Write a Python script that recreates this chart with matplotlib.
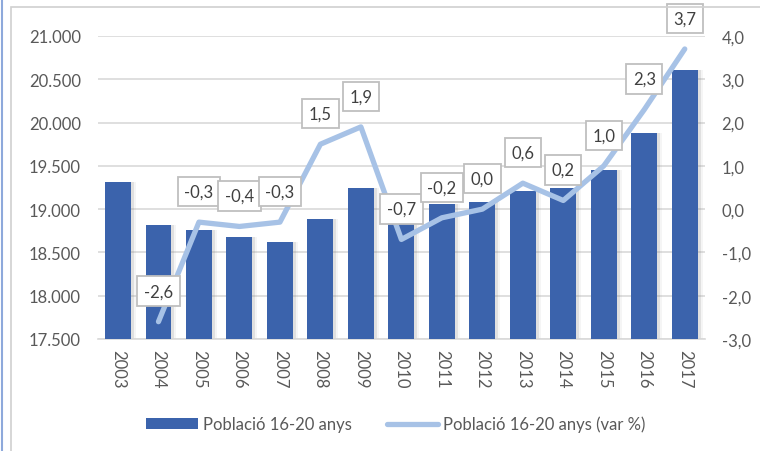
import matplotlib
matplotlib.use("Agg")
import matplotlib.pyplot as plt
from matplotlib.patches import Rectangle, Patch
from matplotlib.lines import Line2D
from matplotlib.ticker import FuncFormatter, FixedLocator
import numpy as np

years = ["2003", "2004", "2005", "2006", "2007", "2008", "2009", "2010",
         "2011", "2012", "2013", "2014", "2015", "2016", "2017"]
poblacio = [19310, 18820, 18760, 18680, 18615, 18890, 19250, 19120,
            19060, 19080, 19205, 19245, 19450, 19885, 20610]
var_years = years[1:]
var_pct = [-2.6, -0.3, -0.4, -0.3, 1.5, 1.9, -0.7, -0.2, 0.0, 0.6, 0.2, 1.0, 2.3, 3.7]
left_ticks = [17500, 18000, 18500, 19000, 19500, 20000, 20500, 21000]
right_ticks = [-3, -2, -1, 0, 1, 2, 3, 4]

bar_color = "#3B63AC"
line_color = "#A7C2E6"
text_color = "#595959"
label_color = "#404040"
grid_color = "#D9D9D9"

plt.rcParams['font.family'] = ['Lato', 'DejaVu Sans']

W, H = 760, 452
fig = plt.figure(figsize=(W / 100, H / 100), dpi=100)
fig.patch.set_facecolor("white")

# outer chart frame
fig.add_artist(Line2D([2 / W, 2 / W], [0, 1], transform=fig.transFigure,
                      color="#8EA9DB", lw=1.5))
fig.add_artist(Rectangle((11 / W, -0.05), 1.0, 1 - 8 / H + 0.05,
                         transform=fig.transFigure, fill=False,
                         edgecolor="#D0D0D0", lw=1.2))

ax = fig.add_axes([97.75 / W, 1 - 340 / H, (705 - 97.75) / W, (340 - 37) / H])
x = np.arange(len(years))

# bar shadows
ax.bar(x + 0.07, poblacio, width=0.64, color="#808080", alpha=0.18, zorder=2)
ax.bar(x + 0.12, poblacio, width=0.64, color="#A0A0A0", alpha=0.10, zorder=2)
ax.bar(x, poblacio, width=0.64, color=bar_color, zorder=3)

ax.set_xlim(-0.5, len(years) - 0.5)
ax.set_ylim(17500, 21000)
ax.yaxis.set_major_locator(FixedLocator(left_ticks))
ax.yaxis.set_major_formatter(FuncFormatter(lambda v, p: f"{int(v):,}".replace(",", ".")))
ax.set_xticks(x)
ax.set_xticklabels(years, rotation=-90, va="top", ha="center")
ax.grid(axis="y", color=grid_color, lw=1.2, zorder=0)
ax.set_axisbelow(True)
for s in ["top", "right", "left"]:
    ax.spines[s].set_visible(False)
ax.spines["bottom"].set_color(grid_color)
ax.spines["bottom"].set_linewidth(1.2)
ax.tick_params(axis="y", length=0, pad=12, labelsize=12, labelcolor=text_color)
ax.tick_params(axis="x", length=0, pad=7, labelsize=12, labelcolor=text_color)

ax2 = ax.twinx()
ax2.set_ylim(-3, 4)
ax2.yaxis.set_major_locator(FixedLocator(right_ticks))
ax2.yaxis.set_major_formatter(FuncFormatter(lambda v, p: f"{v:.1f}".replace(".", ",")))
for s in ax2.spines.values():
    s.set_visible(False)
ax2.tick_params(axis="y", length=0, pad=12, labelsize=12, labelcolor=text_color)

xv = [years.index(y) for y in var_years]
ax2.plot(xv, var_pct, color=line_color, lw=3.8, solid_joinstyle="round",
         solid_capstyle="round", zorder=4)

for xi, v in zip(xv, var_pct):
    ax2.annotate(f"{v:.1f}".replace(".", ","), (xi, v), xytext=(0, 22),
                 textcoords="offset points", ha="center", va="center",
                 fontsize=12, color=label_color, zorder=6,
                 bbox=dict(boxstyle="square,pad=0.4", fc="white",
                           ec="#BFBFBF", lw=1.3))

handles = [Patch(facecolor=bar_color, edgecolor="none"),
           Line2D([0], [0], color=line_color, lw=3.8, solid_capstyle="round")]
fig.legend(handles, ["Població 16-20 anys", "Població 16-20 anys (var %)"],
           loc="center", bbox_to_anchor=(396 / W, 1 - 425 / H), ncol=2,
           frameon=False, fontsize=12, labelcolor=text_color,
           handlelength=3.1, handletextpad=0.3, columnspacing=2.1,
           handleheight=0.6)

fig.savefig("out.png", dpi=100, facecolor="white")
